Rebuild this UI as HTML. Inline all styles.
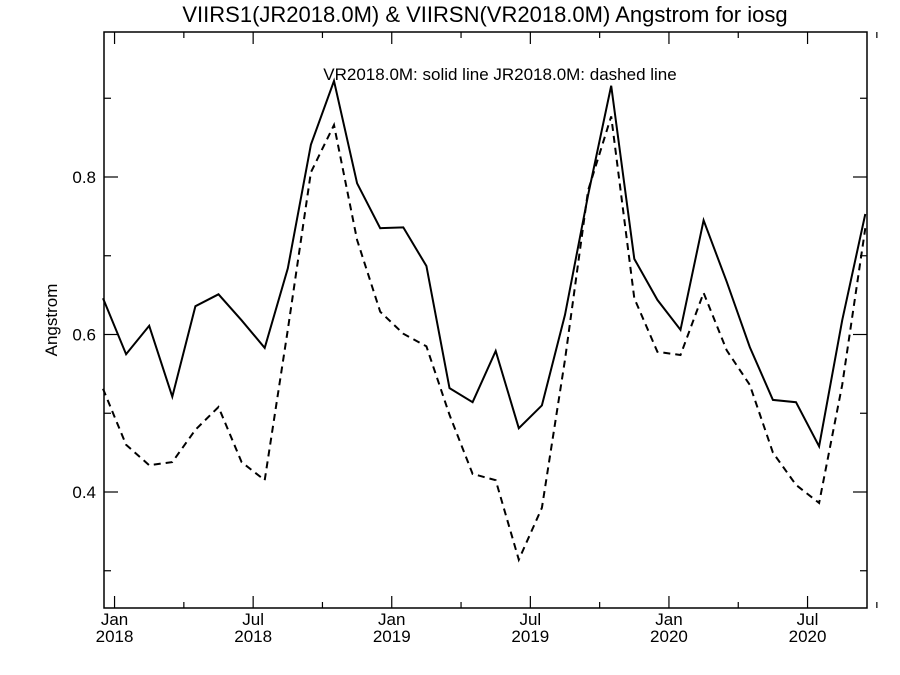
<!DOCTYPE html>
<html><head><meta charset="utf-8"><style>body{margin:0;background:#fff}svg{display:block}text{font-family:"Liberation Sans",sans-serif;fill:#000}</style></head>
<body>
<svg id="c" width="900" height="675"></svg>
<script>
const months = ["2017-12","2018-01","2018-02","2018-03","2018-04","2018-05","2018-06","2018-07","2018-08","2018-09","2018-10","2018-11","2018-12","2019-01","2019-02","2019-03","2019-04","2019-05","2019-06","2019-07","2019-08","2019-09","2019-10","2019-11","2019-12","2020-01","2020-02","2020-03","2020-04","2020-05","2020-06","2020-07","2020-08","2020-09"];
const solidVR = [0.646,0.575,0.611,0.521,0.636,0.651,0.618,0.583,0.684,0.841,0.922,0.792,0.735,0.736,0.687,0.532,0.514,0.579,0.481,0.510,0.625,0.777,0.916,0.696,0.644,0.606,0.745,0.667,0.584,0.517,0.514,0.458,0.618,0.753];
const dashedJR = [0.531,0.460,0.434,0.438,0.479,0.508,0.438,0.415,0.606,0.806,0.866,0.720,0.629,0.601,0.585,0.498,0.423,0.415,0.314,0.380,0.568,0.783,0.877,0.646,0.578,0.574,0.653,0.580,0.536,0.450,0.409,0.386,0.536,0.735];
const yTicks = [0.4,0.6,0.8];
const yMinor = [0.3,0.5,0.7,0.9];
const xTickLabels = [["Jan","2018"],["Jul","2018"],["Jan","2019"],["Jul","2019"],["Jan","2020"],["Jul","2020"]];

const svg=document.getElementById('c');const NS='http://www.w3.org/2000/svg';
const L=104,R=867,T=32,B=608;
function y(v){return 177+(0.8-v)*787.5;}
// month index from Dec 2017 mid-month: Jan 1 2018 = index 0.5
function x(i){return 103+i*23.1;}
function mk(tag,at,name,parent){const e=document.createElementNS(NS,tag);for(const k in at)e.setAttribute(k,at[k]);


(parent||svg).appendChild(e);return e;}
function txt(s,at,name){const e=mk('text',at,name);e.textContent=s;return e;}
mk('rect',{x:L,y:T,width:R-L,height:B-T,fill:'none',stroke:'#000','stroke-width':1.5},'plot-frame');
txt('VIIRS1(JR2018.0M) & VIIRSN(VR2018.0M)  Angstrom for iosg',{x:485,y:22,'font-size':22,'text-anchor':'middle','xml:space':'preserve'},'chart-title');
txt('VR2018.0M: solid line   JR2018.0M: dashed line',{x:500,y:80,'font-size':17,'text-anchor':'middle','xml:space':'preserve'},'legend-note');
txt('Angstrom',{x:0,y:0,'font-size':17,'text-anchor':'middle',transform:'translate(57,320) rotate(-90)'},'y-axis-title');
yTicks.forEach(v=>{const yy=y(v);
mk('line',{x1:L,x2:L+14,y1:yy,y2:yy,stroke:'#000','stroke-width':1.2},'y-tick');
mk('line',{x1:R,x2:R-14,y1:yy,y2:yy,stroke:'#000','stroke-width':1.2},'y-tick-right');
txt(v.toFixed(1),{x:L-8,y:yy+6,'font-size':17,'text-anchor':'end'},'y-tick-label');});
yMinor.forEach(v=>{const yy=y(v);
mk('line',{x1:L,x2:L+7,y1:yy,y2:yy,stroke:'#000','stroke-width':1.2},'y-minor-tick');
mk('line',{x1:R,x2:R-7,y1:yy,y2:yy,stroke:'#000','stroke-width':1.2},'y-minor-tick-right');});
for(let k=0;k<12;k++){const xx=x(0.5+k*3);const len=k%2==0?12:6;
mk('line',{x1:xx,x2:xx,y1:B,y2:B-len,stroke:'#000','stroke-width':1.2},'x-tick');
mk('line',{x1:xx,x2:xx,y1:T,y2:T+len,stroke:'#000','stroke-width':1.2},'x-tick-top');}
xTickLabels.forEach((lb,k)=>{const xx=x(0.5+k*6);
txt(lb[0],{x:xx,y:625,'font-size':17,'text-anchor':'middle'},'x-tick-label-month');
txt(lb[1],{x:xx,y:642,'font-size':17,'text-anchor':'middle'},'x-tick-label-year');});
function line(vals,name,dash){const p=vals.map((v,i)=>x(i).toFixed(1)+','+y(v).toFixed(1)).join(' ');
const at={points:p,fill:'none',stroke:'#000','stroke-width':2,'stroke-linejoin':'miter'};if(dash)at['stroke-dasharray']='7,5';
mk('polyline',at,name);}
line(solidVR,'vr-solid-line',false);
line(dashedJR,'jr-dashed-line',true);
</script>
</body></html>
